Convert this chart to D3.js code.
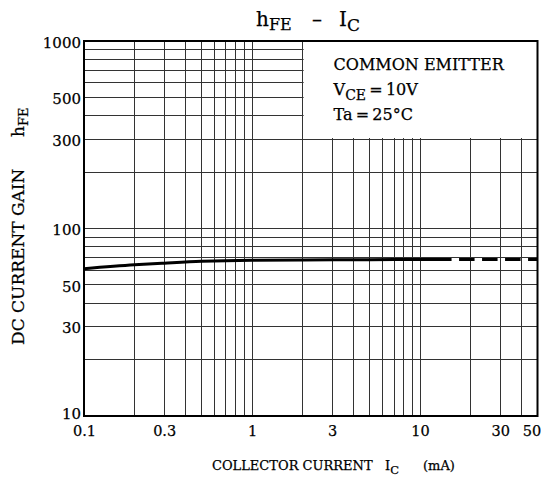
<!DOCTYPE html>
<html>
<head>
<meta charset="utf-8">
<script src="https://cdn.jsdelivr.net/npm/d3@7"></script>
<style>
  body { margin: 0; background: #fff; }
  svg { display: block; }
  text { font-family: "DejaVu Serif", serif; fill: #000; stroke: #000; stroke-width: 0.25px; }
</style>
</head>
<body>
<svg id="chart" width="549" height="481"></svg>
<script>
// hFE vs IC
const currentMA = [0.1, 0.2, 0.3, 0.5, 0.7, 1, 2, 5, 10, 15.4, 20, 30, 50];
const gainHFE   = [61, 64, 65.3, 66.8, 67.4, 67.8, 68, 68.2, 68.3, 68.4, 68.4, 68.4, 68.4];
const solidUpTo = 15.4; // curve goes dashed past this current

const xTickValues = [0.1, 0.3, 1, 3, 10, 30, 50];
const yTickValues = [10, 30, 50, 100, 300, 500, 1000];
const xGridValues = [0.2, 0.3, 0.4, 0.5, 0.6, 0.7, 0.8, 0.9, 1, 2, 3, 4, 5, 6, 7, 8, 9, 10, 20, 30, 40];
const yGridValues = [20, 30, 40, 50, 60, 70, 80, 90, 100, 200, 300, 400, 500, 600, 700, 800, 900];
const legendLines = ["COMMON EMITTER", "VCE=10V", "Ta=25°C"];

const svg = d3.select("#chart");
const plotL = 84, plotR = 537.5, plotT = 41, plotB = 416;

const x = d3.scaleLog().domain([0.1, 50]).range([plotL, plotR]);
const y = d3.scaleLog().domain([10, 1000]).range([plotB, plotT]);

// grid
const grid = svg.append("g").attr("shape-rendering", "crispEdges");
grid.selectAll(".vgrid")
    .data(xGridValues)
    .enter()
    .append("line")
    .attr("class", "vgrid")
    .attr("x1", d => x(d)).attr("x2", d => x(d))
    .attr("y1", plotT).attr("y2", plotB)
    .style("stroke", "#333")
    .style("stroke-width", 1);
grid.selectAll(".hgrid")
    .data(yGridValues)
    .enter()
    .append("line")
    .attr("class", "hgrid")
    .attr("x1", plotL).attr("x2", plotR)
    .attr("y1", d => y(d)).attr("y2", d => y(d))
    .style("stroke", "#333")
    .style("stroke-width", 1);

// legend box knocks the grid out (bounded by the 2 mA and 300 lines)
svg.append("rect")
    .attr("x", x(2) + 1)
    .attr("y", plotT)
    .attr("width", plotR - x(2) - 1)
    .attr("height", y(300) - plotT - 1)
    .style("fill", "#fff");

// frame
svg.append("rect")
    .attr("x", plotL).attr("y", plotT)
    .attr("width", plotR - plotL).attr("height", plotB - plotT)
    .style("fill", "none")
    .style("stroke", "#000")
    .style("stroke-width", 2);

// curve
const pts = currentMA.map((c, i) => [c, gainHFE[i]]);
const line = d3.line()
    .x(d => x(d[0]))
    .y(d => y(d[1]))
    .curve(d3.curveMonotoneX);

svg.append("path")
    .datum(pts.filter(d => d[0] <= solidUpTo))
    .attr("d", line)
    .style("fill", "none")
    .style("stroke", "#000")
    .style("stroke-width", 3);

// dashed part starts with a gap
svg.append("path")
    .datum(pts.filter(d => d[0] >= solidUpTo))
    .attr("d", line)
    .style("fill", "none")
    .style("stroke", "#000")
    .style("stroke-width", 3)
    .style("stroke-dasharray", "15.5,7.5")
    .style("stroke-dashoffset", 15.5);

// axes: labels only, no tick marks
const xAxis = svg.append("g")
    .attr("transform", `translate(0,${plotB})`)
    .call(d3.axisBottom(x).tickValues(xTickValues).tickSize(0).tickPadding(10)
        .tickFormat(d3.format("~g")));
xAxis.select(".domain").remove();
xAxis.selectAll("text")
    .style("font-family", '"DejaVu Serif", serif')
    .style("font-size", "14.5px")
    .style("fill", "#000")
    .attr("dx", d => d === 50 ? -6 : 0);

const yAxis = svg.append("g")
    .attr("transform", `translate(${plotL},0)`)
    .call(d3.axisLeft(y).tickValues(yTickValues).tickSize(0).tickPadding(3)
        .tickFormat(d3.format("~g")));
yAxis.select(".domain").remove();
yAxis.selectAll("text")
    .style("font-family", '"DejaVu Serif", serif')
    .style("font-size", "15px")
    .style("fill", "#000")
    .attr("dy", d => d === 10 ? "0.15em" : "0.42em");

// title  hFE - IC
const title = svg.append("text").attr("y", 26).style("font-size", "20px");
title.append("tspan").attr("x", 256).text("h");
title.append("tspan").attr("x", 269).attr("dy", 4).style("font-size", "16px").text("FE");
title.append("tspan").attr("x", 312).attr("dy", -4).text("\u2013");
title.append("tspan").attr("x", 339).text("I");
title.append("tspan").attr("x", 347).attr("dy", 5).style("font-size", "17px").text("C");

// legend text
const lx = x(2) + 31;
svg.append("text").attr("x", lx).attr("y", 70).style("font-size", "16px").text(legendLines[0]);
const vce = svg.append("text").attr("x", lx).attr("y", 95).style("font-size", "16px");
vce.append("tspan").text("V");
vce.append("tspan").attr("dy", 5).style("font-size", "14px").text("CE");
vce.append("tspan").attr("dy", -5).text("\u2009=\u200910V");
svg.append("text").attr("x", lx).attr("y", 120).style("font-size", "16px").text("Ta\u2009=\u200925°C");

// x axis title
const xt = svg.append("text").attr("x", 212).attr("y", 470).style("font-size", "13px");
xt.append("tspan").text("COLLECTOR CURRENT");
xt.append("tspan").attr("x", 385).text("I");
xt.append("tspan").attr("dy", 4).style("font-size", "11.5px").text("C");
xt.append("tspan").attr("x", 423).attr("dy", -4).text("(mA)");

// y axis title, rotated
const yt = svg.append("text")
    .attr("transform", "translate(24,345) rotate(-90)")
    .style("font-size", "17px");
yt.append("tspan").text("DC CURRENT GAIN");
yt.append("tspan").attr("x", 208).text("h");
yt.append("tspan").attr("dy", 4).style("font-size", "13px").text("FE");
</script>
</body>
</html>
